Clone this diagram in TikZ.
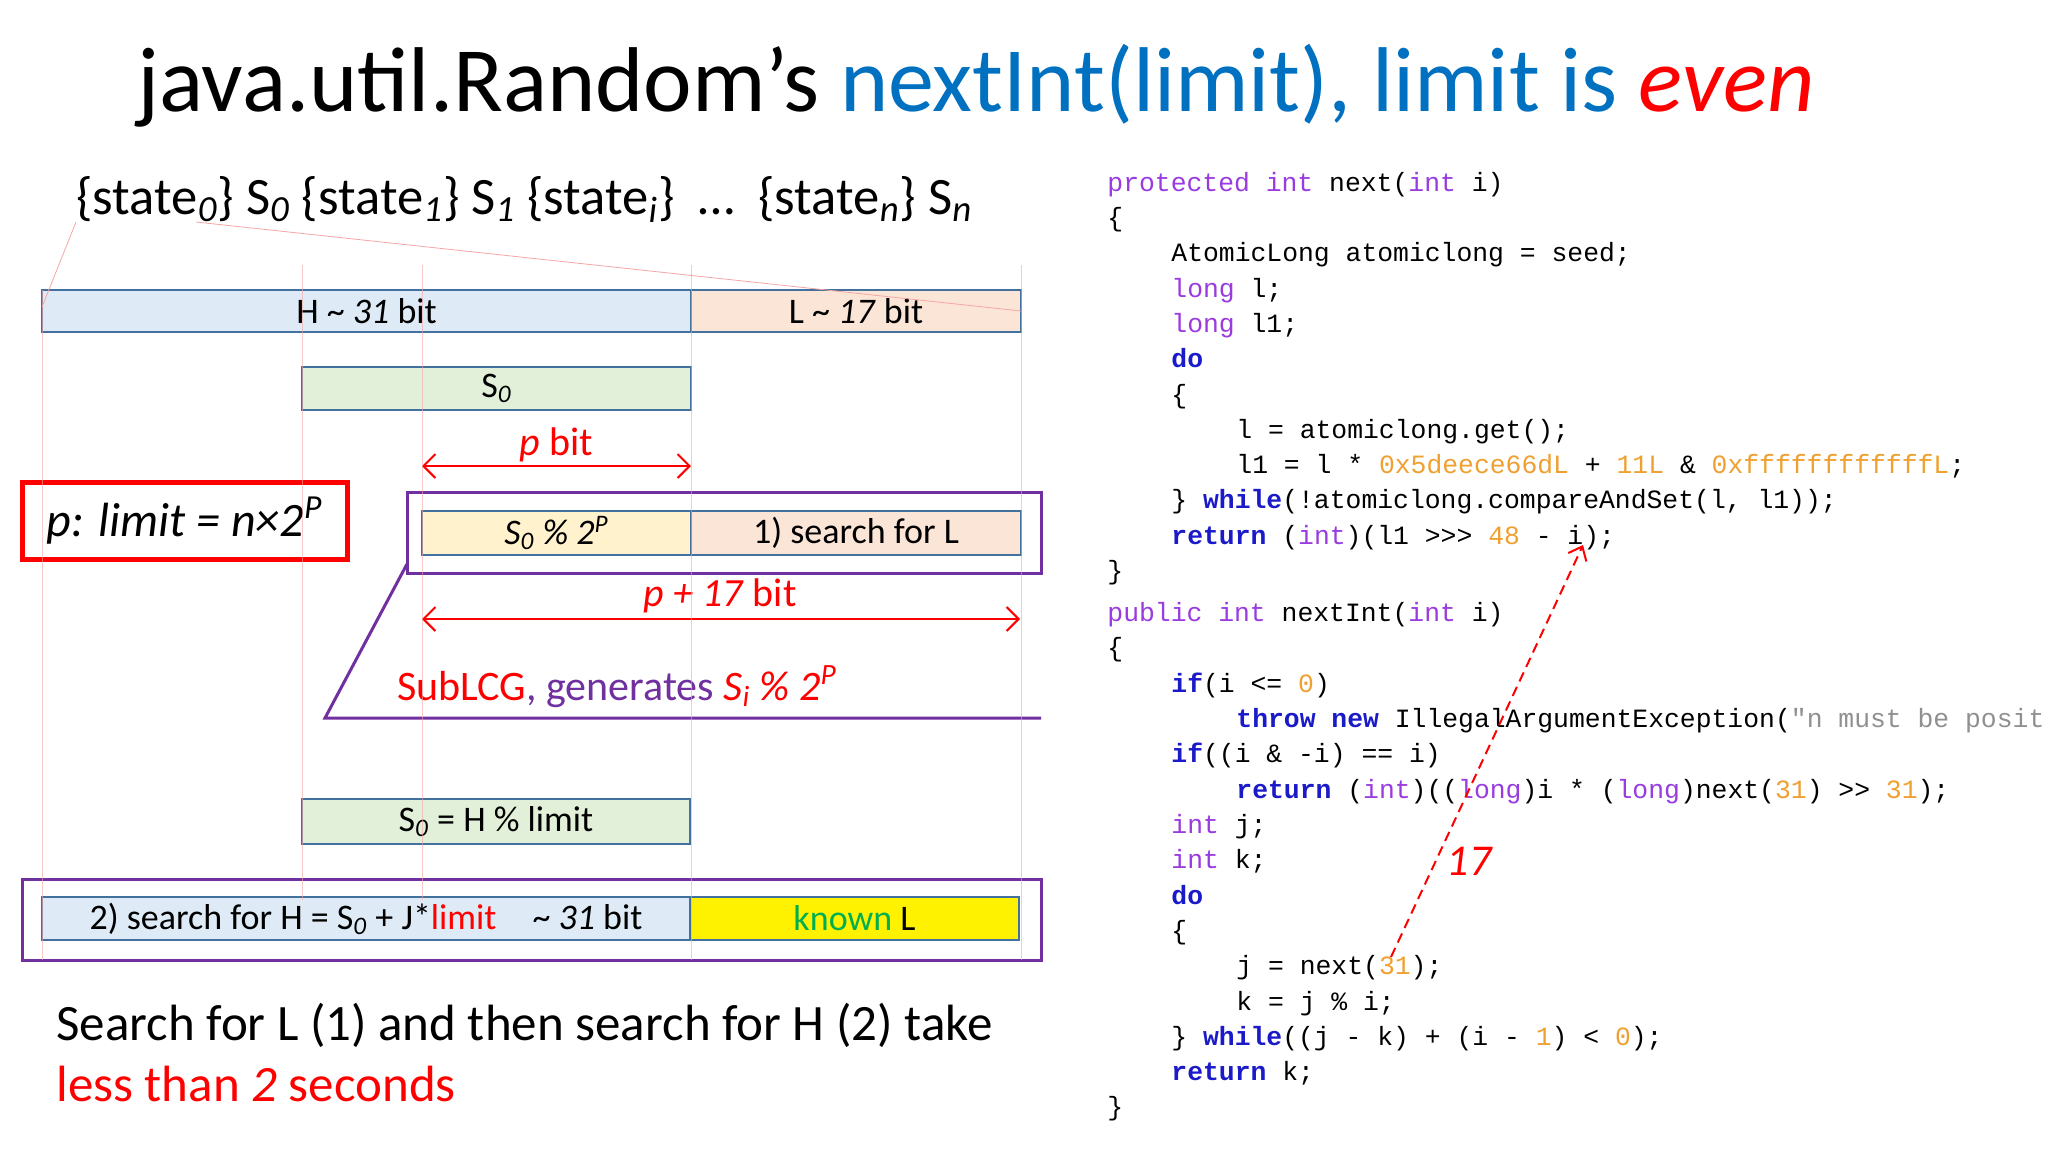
\documentclass[tikz,border=0pt]{standalone}
\usepackage{fontspec}
\setmainfont{Carlito}
\setmonofont{Liberation Mono}
\usetikzlibrary{arrows.meta}
\definecolor{tblue}{HTML}{0070C0}
\definecolor{kwp}{HTML}{9A3BE0}
\definecolor{kwb}{HTML}{1A1AC8}
\definecolor{kwo}{HTML}{F0A030}
\definecolor{kwg}{HTML}{909090}
\definecolor{hfill}{HTML}{DEEBF7}
\definecolor{lfill}{HTML}{FBE5D6}
\definecolor{gfill}{HTML}{E2F0D9}
\definecolor{yfill}{HTML}{FFF2CC}
\definecolor{bord}{HTML}{41719C}
\definecolor{purp}{HTML}{7030A0}
\definecolor{guide}{HTML}{F4A6A6}
\definecolor{kgreen}{HTML}{00B050}
\newcommand\cP[1]{\textcolor{kwp}{#1}}
\newcommand\cB[1]{\textcolor{kwb}{\bfseries #1}}
\newcommand\cO[1]{\textcolor{kwo}{#1}}
\newcommand\cG[1]{\textcolor{kwg}{#1}}
\newcommand\mysub[1]{\textsubscript{\textit{#1}}}
\tikzset{
  bx/.style={draw=bord, line width=1pt, inner sep=0pt, font=\fontsize{18}{20}\selectfont},
  code/.style={anchor=base west, inner sep=0pt, font=\ttfamily\fontsize{13.2}{14}\selectfont},
  guideline/.style={draw=guide, line width=0.4pt},
  redarrow/.style={draw=red, line width=1pt, {Straight Barb[length=6pt,width=12pt]}-{Straight Barb[length=6pt,width=12pt]}},
}
\begin{document}
\begin{tikzpicture}[x=0.5pt,y=-0.5pt]
\useasboundingbox[fill=white] (0,0) rectangle (2048,1152);
% title
\node[anchor=base west, inner sep=0pt, font=\fontsize{46}{50}\selectfont] (title) at (137,111)
  {java.util.Random’s \textcolor{tblue}{nextInt(limit), limit is} \textcolor{red}{\itshape even}};
% state line
\node[anchor=base west, inner sep=0pt, font=\fontsize{26.3}{29}\selectfont] (states) at (76,214)
  {\{state\mysub{0}\} S\mysub{0} \{state\mysub{1}\} S\mysub{1} \{state\mysub{i}\}\ \ …\ \ \{state\mysub{n}\} S\mysub{n}};
% boxes
\node[bx, fill=hfill, minimum width=324.5pt, minimum height=21pt] (hbar) at (366.5,311) {H \textasciitilde{} \textit{31} bit};
\node[bx, fill=lfill, minimum width=165pt, minimum height=21pt] (lbar) at (856,311) {L \textasciitilde{} \textit{17} bit};
\node[bx, fill=gfill, minimum width=194.5pt, minimum height=21.5pt] (s0) at (496.5,388.5) {S\mysub{0}};
\node[font=\fontsize{20}{22}\selectfont, text=red, anchor=base, inner sep=0pt] (pbit) at (556,455) {\textit{p} bit};
\coordinate (pa1) at (422,466); \coordinate (pa2) at (691,466);
\draw[redarrow] (pa1) -- (pa2);
\node[draw=red, line width=2.5pt, minimum width=162.5pt, minimum height=38.5pt, font=\itshape\fontsize{24}{26}\selectfont] (pbox) at (184.5,520.5) {p: limit = n×2\textsuperscript{P}};
\node[draw=purp, line width=1.5pt, minimum width=317pt, minimum height=40.5pt, inner sep=0pt] (pur1) at (724,532.5) {};
\node[bx, fill=yfill, minimum width=134.5pt, minimum height=22pt] (smod) at (556.5,533) {\textit{S\textsubscript{0} \% 2\textsuperscript{P}}};
\node[bx, fill=lfill, minimum width=165pt, minimum height=22pt] (srch) at (856,533) {1) search for L};
\node[font=\fontsize{20}{22}\selectfont, text=red, anchor=base, inner sep=0pt] (p17) at (720,606) {\textit{p + 17} bit};
\coordinate (pb1) at (422,619); \coordinate (pb2) at (1020,619);
\draw[redarrow] (pb1) -- (pb2);
\coordinate (sl1) at (407,564); \coordinate (sl2) at (325,718); \coordinate (sl3) at (1041,718);
\draw[purp, line width=1.5pt] (sl1) -- (sl2) -- (sl3);
\node[anchor=base, inner sep=0pt, font=\fontsize{21}{23}\selectfont, text=purp] (sub) at (617,700)
  {\textcolor{red}{SubLCG}, generates \textcolor{red}{\textit{S\textsubscript{i} \% 2\textsuperscript{P}}}};
\node[bx, fill=gfill, minimum width=194pt, minimum height=22.5pt] (s0h) at (496,821.5) {S\mysub{0} = H \% limit};
\node[draw=purp, line width=1.5pt, minimum width=509.5pt, minimum height=40.5pt, inner sep=0pt] (pur2) at (531.5,919.5) {};
\node[bx, fill=hfill, minimum width=324pt, minimum height=21.5pt] (srchH) at (366,918.5)
  {2) search for H = S\mysub{0} + J*\textcolor{red}{limit}\quad \textasciitilde{} \textit{31} bit};
\node[bx, fill=yellow, minimum width=164.5pt, minimum height=21.5pt, text=kgreen] (known) at (854.5,918.5) {known \textcolor{black}{L}};
% guide lines (over the boxes)
\coordinate (g1t) at (76,222); \coordinate (g1b) at (42,307);
\coordinate (g2t) at (196,222); \coordinate (g2b) at (1021,311);
\draw[guideline] (g1t) -- (g1b);
\draw[guideline] (g2t) -- (g2b);
\foreach \gx/\gt/\gb in {42/290/960, 302/265/900, 422/265/900, 691/265/960, 1021/265/960}{
  \draw[guideline, opacity=0.6] (\gx,\gt) -- (\gx,\gb);
}
% bottom text
\node[anchor=base west, inner sep=0pt, font=\fontsize{25.5}{28}\selectfont] (bt1) at (56,1040) {Search for L (1) and then search for H (2) take};
\node[anchor=base west, inner sep=0pt, font=\fontsize{25.5}{28}\selectfont, text=red] (bt2) at (56,1101) {less than \textit{2} seconds};
% code
\node[code] (c1) at (1107,191) {\cP{protected int} next(\cP{int} i)};
\node[code] (c2) at (1107,226) {\{};
\node[code] (c3) at (1171,261) {AtomicLong atomiclong = seed;};
\node[code] (c4) at (1171,297) {\cP{long} l;};
\node[code] (c5) at (1171,332) {\cP{long} l1;};
\node[code] (c6) at (1171,367) {\cB{do}};
\node[code] (c7) at (1171,403) {\{};
\node[code] (c8) at (1236,438) {l = atomiclong.get();};
\node[code] (c9) at (1236,473) {l1 = l * \cO{0x5deece66dL} + \cO{11L} \& \cO{0xffffffffffffL};};
\node[code] (c10) at (1171,508) {\} \cB{while}(!atomiclong.compareAndSet(l, l1));};
\node[code] (c11) at (1171,544) {\cB{return} (\cP{int})(l1 >>> \cO{48} - i);};
\node[code] (c12) at (1107,579) {\}};
\node[code] (c13) at (1107,621) {\cP{public int} nextInt(\cP{int} i)};
\node[code] (c14) at (1107,656) {\{};
\node[code] (c15) at (1171,692) {\cB{if}(i <= \cO{0})};
\node[code] (c16) at (1236,727) {\cB{throw new} IllegalArgumentException(\cG{"n must be posit}};
\node[code] (c17) at (1171,762) {\cB{if}((i \& -i) == i)};
\node[code] (c18) at (1236,798) {\cB{return} (\cP{int})((\cP{long})i * (\cP{long})next(\cO{31}) >> \cO{31});};
\node[code] (c19) at (1171,833) {\cP{int} j;};
\node[code] (c20) at (1171,868) {\cP{int} k;};
\node[code] (c21) at (1171,904) {\cB{do}};
\node[code] (c22) at (1171,939) {\{};
\node[code] (c23) at (1236,974) {j = next(\cO{31});};
\node[code] (c24) at (1236,1010) {k = j \% i;};
\node[code] (c25) at (1171,1045) {\} \cB{while}((j - k) + (i - \cO{1}) < \cO{0});};
\node[code] (c26) at (1171,1080) {\cB{return} k;};
\node[code] (c27) at (1107,1115) {\}};
% dashed arrow
\coordinate (d1) at (1391,957); \coordinate (d2) at (1583,545);
\draw[red, dash pattern=on 5pt off 3pt, line width=1pt, -{Straight Barb[length=6pt,width=10pt]}] (d1) -- (d2);
\node[text=red, font=\itshape\fontsize{22}{24}\selectfont, anchor=base, inner sep=0pt] (n17) at (1469,875) {17};
\end{tikzpicture}
\end{document}
